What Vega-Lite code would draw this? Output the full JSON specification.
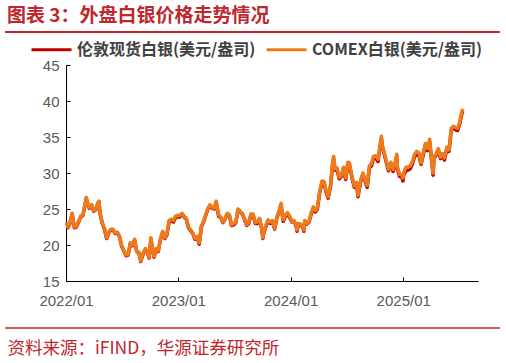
{
 "$schema": "https://vega.github.io/schema/vega-lite/v6.json",
 "width": 412,
 "height": 216,
 "autosize": {"type": "none"},
 "padding": {"left": 66, "top": 65, "right": 28, "bottom": 82},
 "background": "#ffffff",
 "title": {"text": "图表 3：外盘白银价格走势情况", "anchor": "start", "frame": "group", "font": "Noto Sans CJK SC", "fontSize": 19, "fontWeight": "bold", "color": "#C0262D", "dx": -59, "offset": 0, "dy": -2},
 "datasets": {
  "silver": [
   {"d":"2022-01-04","l":23.1,"c":23.2},{"d":"2022-01-07","l":22.4,"c":22.5},{"d":"2022-01-14","l":23.0,"c":23.1},{"d":"2022-01-21","l":24.3,"c":24.4},{"d":"2022-01-28","l":22.4,"c":22.5},
   {"d":"2022-02-04","l":22.5,"c":22.6},{"d":"2022-02-11","l":23.2,"c":23.3},{"d":"2022-02-18","l":23.9,"c":24.0},{"d":"2022-02-25","l":24.1,"c":24.2},
   {"d":"2022-03-04","l":25.6,"c":25.7},{"d":"2022-03-08","l":26.5,"c":26.6},{"d":"2022-03-11","l":25.9,"c":26.0},{"d":"2022-03-18","l":25.1,"c":25.2},{"d":"2022-03-25","l":25.5,"c":25.6},
   {"d":"2022-04-01","l":24.7,"c":24.8},{"d":"2022-04-08","l":24.9,"c":25.0},{"d":"2022-04-14","l":25.7,"c":25.8},{"d":"2022-04-18","l":26.0,"c":26.1},{"d":"2022-04-22","l":24.3,"c":24.4},{"d":"2022-04-29","l":23.0,"c":23.1},
   {"d":"2022-05-06","l":22.2,"c":22.3},{"d":"2022-05-13","l":20.9,"c":21.0},{"d":"2022-05-20","l":21.7,"c":21.8},{"d":"2022-05-27","l":22.1,"c":22.2},
   {"d":"2022-06-03","l":22.1,"c":22.2},{"d":"2022-06-10","l":21.6,"c":21.7},{"d":"2022-06-17","l":21.7,"c":21.8},{"d":"2022-06-24","l":21.1,"c":21.2},
   {"d":"2022-07-01","l":19.8,"c":19.9},{"d":"2022-07-08","l":19.2,"c":19.3},{"d":"2022-07-15","l":18.5,"c":18.6},{"d":"2022-07-22","l":18.6,"c":18.7},{"d":"2022-07-29","l":20.2,"c":20.3},
   {"d":"2022-08-05","l":19.9,"c":20.0},{"d":"2022-08-12","l":20.7,"c":20.8},{"d":"2022-08-19","l":19.1,"c":19.1},{"d":"2022-08-26","l":18.9,"c":19.0},
   {"d":"2022-09-01","l":17.7,"c":17.8},{"d":"2022-09-09","l":18.8,"c":18.9},{"d":"2022-09-16","l":19.4,"c":19.5},{"d":"2022-09-23","l":18.9,"c":19.0},{"d":"2022-09-28","l":18.2,"c":18.3},
   {"d":"2022-10-04","l":20.9,"c":21.0},{"d":"2022-10-07","l":20.0,"c":20.1},{"d":"2022-10-14","l":18.3,"c":18.4},{"d":"2022-10-21","l":19.4,"c":19.5},{"d":"2022-10-28","l":19.1,"c":19.2},
   {"d":"2022-11-04","l":20.8,"c":20.9},{"d":"2022-11-11","l":21.7,"c":21.9},{"d":"2022-11-18","l":20.9,"c":21.0},{"d":"2022-11-25","l":21.4,"c":21.6},
   {"d":"2022-12-02","l":23.2,"c":23.4},{"d":"2022-12-09","l":23.4,"c":23.6},{"d":"2022-12-16","l":23.2,"c":23.4},{"d":"2022-12-23","l":23.8,"c":24.0},{"d":"2022-12-30","l":23.9,"c":24.1},
   {"d":"2023-01-06","l":23.9,"c":24.1},{"d":"2023-01-13","l":24.3,"c":24.4},{"d":"2023-01-20","l":23.9,"c":24.0},{"d":"2023-01-27","l":23.6,"c":23.7},
   {"d":"2023-02-03","l":22.4,"c":22.5},{"d":"2023-02-10","l":22.0,"c":22.1},{"d":"2023-02-17","l":21.6,"c":21.7},{"d":"2023-02-24","l":20.8,"c":20.9},
   {"d":"2023-03-03","l":21.1,"c":21.2},{"d":"2023-03-10","l":20.1,"c":20.3},{"d":"2023-03-17","l":22.5,"c":22.6},{"d":"2023-03-24","l":23.2,"c":23.3},{"d":"2023-03-31","l":24.1,"c":24.2},
   {"d":"2023-04-07","l":25.0,"c":25.1},{"d":"2023-04-14","l":25.4,"c":25.6},{"d":"2023-04-21","l":25.1,"c":25.2},{"d":"2023-04-28","l":25.0,"c":25.1},
   {"d":"2023-05-04","l":25.9,"c":26.1},{"d":"2023-05-12","l":24.0,"c":24.2},{"d":"2023-05-19","l":23.8,"c":23.9},{"d":"2023-05-26","l":23.1,"c":23.2},
   {"d":"2023-06-02","l":23.6,"c":23.7},{"d":"2023-06-09","l":24.3,"c":24.4},{"d":"2023-06-16","l":24.1,"c":24.2},{"d":"2023-06-23","l":22.7,"c":22.8},{"d":"2023-06-30","l":22.8,"c":23.0},
   {"d":"2023-07-07","l":23.1,"c":23.2},{"d":"2023-07-14","l":24.9,"c":25.0},{"d":"2023-07-21","l":24.6,"c":24.7},{"d":"2023-07-28","l":24.3,"c":24.4},
   {"d":"2023-08-04","l":23.6,"c":23.7},{"d":"2023-08-11","l":22.7,"c":22.8},{"d":"2023-08-18","l":23.0,"c":23.2},{"d":"2023-08-25","l":24.2,"c":24.3},
   {"d":"2023-09-01","l":24.2,"c":24.3},{"d":"2023-09-08","l":23.0,"c":23.1},{"d":"2023-09-15","l":23.0,"c":23.2},{"d":"2023-09-22","l":23.6,"c":23.7},{"d":"2023-09-29","l":22.3,"c":22.4},
   {"d":"2023-10-03","l":20.9,"c":21.0},{"d":"2023-10-06","l":21.7,"c":21.8},{"d":"2023-10-13","l":22.6,"c":22.8},{"d":"2023-10-20","l":23.4,"c":23.5},{"d":"2023-10-27","l":23.0,"c":23.2},
   {"d":"2023-11-03","l":23.3,"c":23.4},{"d":"2023-11-10","l":22.2,"c":22.3},{"d":"2023-11-17","l":23.7,"c":23.8},{"d":"2023-11-24","l":24.6,"c":24.7},
   {"d":"2023-12-01","l":25.6,"c":25.8},{"d":"2023-12-06","l":23.9,"c":24.0},{"d":"2023-12-08","l":23.3,"c":23.5},{"d":"2023-12-15","l":24.0,"c":24.2},{"d":"2023-12-22","l":24.3,"c":24.5},{"d":"2023-12-29","l":23.8,"c":24.0},
   {"d":"2024-01-05","l":23.2,"c":23.3},{"d":"2024-01-12","l":23.3,"c":23.4},{"d":"2024-01-19","l":22.6,"c":22.7},{"d":"2024-01-22","l":21.9,"c":22.1},{"d":"2024-01-26","l":22.9,"c":23.0},
   {"d":"2024-02-02","l":22.8,"c":22.9},{"d":"2024-02-09","l":22.5,"c":22.6},{"d":"2024-02-13","l":21.9,"c":22.1},{"d":"2024-02-16","l":23.3,"c":23.4},{"d":"2024-02-23","l":22.9,"c":23.0},
   {"d":"2024-03-01","l":23.2,"c":23.3},{"d":"2024-03-08","l":24.3,"c":24.5},{"d":"2024-03-15","l":25.1,"c":25.3},{"d":"2024-03-22","l":24.6,"c":24.8},{"d":"2024-03-28","l":25.0,"c":25.2},
   {"d":"2024-04-05","l":27.4,"c":27.6},{"d":"2024-04-12","l":28.6,"c":28.9},{"d":"2024-04-19","l":28.6,"c":28.8},{"d":"2024-04-26","l":27.2,"c":27.4},
   {"d":"2024-05-02","l":26.5,"c":26.7},{"d":"2024-05-10","l":28.2,"c":28.4},{"d":"2024-05-17","l":31.4,"c":31.7},{"d":"2024-05-20","l":32.0,"c":32.3},{"d":"2024-05-24","l":30.4,"c":30.6},{"d":"2024-05-31","l":30.4,"c":30.7},
   {"d":"2024-06-07","l":29.2,"c":29.4},{"d":"2024-06-14","l":29.5,"c":29.7},{"d":"2024-06-21","l":30.5,"c":30.8},{"d":"2024-06-28","l":29.1,"c":29.3},
   {"d":"2024-07-05","l":31.2,"c":31.5},{"d":"2024-07-10","l":31.2,"c":31.4},{"d":"2024-07-19","l":29.2,"c":29.4},{"d":"2024-07-26","l":28.0,"c":28.2},
   {"d":"2024-08-02","l":28.5,"c":28.7},{"d":"2024-08-07","l":26.7,"c":26.9},{"d":"2024-08-16","l":28.9,"c":29.1},{"d":"2024-08-23","l":29.8,"c":30.0},{"d":"2024-08-30","l":28.9,"c":29.1},
   {"d":"2024-09-06","l":28.0,"c":28.3},{"d":"2024-09-13","l":30.7,"c":31.0},{"d":"2024-09-20","l":31.0,"c":31.3},{"d":"2024-09-26","l":32.0,"c":32.3},
   {"d":"2024-10-04","l":32.1,"c":32.4},{"d":"2024-10-11","l":31.6,"c":31.9},{"d":"2024-10-18","l":33.7,"c":34.0},{"d":"2024-10-22","l":34.8,"c":35.1},{"d":"2024-10-25","l":33.7,"c":33.9},
   {"d":"2024-11-01","l":32.5,"c":32.7},{"d":"2024-11-08","l":31.3,"c":31.5},{"d":"2024-11-14","l":30.3,"c":30.5},{"d":"2024-11-22","l":31.3,"c":31.5},{"d":"2024-11-29","l":30.2,"c":30.5},
   {"d":"2024-12-06","l":31.2,"c":31.4},{"d":"2024-12-11","l":32.3,"c":32.6},{"d":"2024-12-13","l":30.6,"c":30.9},{"d":"2024-12-20","l":29.5,"c":29.8},{"d":"2024-12-27","l":29.5,"c":29.8},{"d":"2024-12-31","l":28.9,"c":29.3},
   {"d":"2025-01-03","l":29.8,"c":30.1},{"d":"2025-01-10","l":30.3,"c":30.8},{"d":"2025-01-17","l":30.4,"c":30.8},{"d":"2025-01-24","l":30.6,"c":31.0},{"d":"2025-01-31","l":31.3,"c":31.6},
   {"d":"2025-02-07","l":32.3,"c":32.6},{"d":"2025-02-14","l":32.6,"c":33.0},{"d":"2025-02-21","l":32.4,"c":32.8},{"d":"2025-02-28","l":31.2,"c":31.4},
   {"d":"2025-03-07","l":32.5,"c":32.8},{"d":"2025-03-14","l":33.8,"c":34.1},{"d":"2025-03-21","l":33.1,"c":33.4},{"d":"2025-03-28","l":34.3,"c":34.7},
   {"d":"2025-04-03","l":31.8,"c":32.0},{"d":"2025-04-08","l":29.7,"c":30.0},{"d":"2025-04-11","l":32.1,"c":32.3},{"d":"2025-04-17","l":32.4,"c":32.6},{"d":"2025-04-25","l":33.2,"c":33.4},
   {"d":"2025-05-02","l":32.0,"c":32.2},{"d":"2025-05-09","l":32.5,"c":32.7},{"d":"2025-05-15","l":31.8,"c":32.1},{"d":"2025-05-23","l":33.4,"c":33.6},{"d":"2025-05-30","l":33.0,"c":33.2},
   {"d":"2025-06-06","l":35.9,"c":36.2},{"d":"2025-06-13","l":36.3,"c":36.5},{"d":"2025-06-20","l":36.0,"c":36.3},{"d":"2025-06-27","l":35.9,"c":36.2},
   {"d":"2025-07-04","l":36.9,"c":37.2},{"d":"2025-07-11","l":38.3,"c":38.6},{"d":"2025-07-14","l":38.6,"c":38.9}
  ]
 },
 "layer": [
  {
   "data": {"values": [{"line": "header"}]},
   "mark": {"type": "rule", "color": "#C0262D", "strokeWidth": 2},
   "encoding": {
    "x": {"datum": {"year": 2021, "month": 6, "date": 17}, "type": "temporal"},
    "x2": {"datum": {"year": 2025, "month": 11, "date": 11}},
    "y": {"datum": 49.58, "type": "quantitative"}
   }
  },
  {
   "data": {"values": [{"line": "footer"}]},
   "mark": {"type": "rule", "color": "#C0262D", "strokeWidth": 1.5},
   "encoding": {
    "x": {"datum": {"year": 2021, "month": 6, "date": 17}, "type": "temporal"},
    "x2": {"datum": {"year": 2025, "month": 11, "date": 11}},
    "y": {"datum": 8.47, "type": "quantitative"}
   }
  },
  {
   "data": {"name": "silver"},
   "mark": {"type": "line", "strokeWidth": 3.5, "strokeJoin": "round"},
   "encoding": {
    "x": {"field": "d", "type": "temporal"},
    "y": {"field": "l", "type": "quantitative"},
    "color": {"datum": "伦敦现货白银(美元/盎司)", "type": "nominal"}
   }
  },
  {
   "data": {"name": "silver"},
   "mark": {"type": "line", "strokeWidth": 3.5, "strokeJoin": "round"},
   "encoding": {
    "x": {"field": "d", "type": "temporal"},
    "y": {"field": "c", "type": "quantitative"},
    "color": {"datum": "COMEX白银(美元/盎司)", "type": "nominal"}
   }
  }
 ],
 "encoding": {
  "x": {
   "type": "temporal",
   "scale": {"domain": [{"year": 2022, "month": 1, "date": 1}, {"year": 2025, "month": 9, "date": 1}]},
   "axis": {"format": "%Y/%m", "tickCount": {"interval": "year", "step": 1}, "labelFlush": false, "labelOverlap": false, "labelFont": "Liberation Sans", "labelFontSize": 15, "labelColor": "#595959", "tickSize": -4, "tickColor": "#000000", "domainColor": "#000000", "grid": false, "labelPadding": 16, "title": "资料来源：iFIND，华源证券研究所", "titleFont": "Noto Sans CJK SC", "titleFontSize": 17.5, "titleFontWeight": "normal", "titleColor": "#C0262D", "titleAnchor": "start", "titleAlign": "left", "titleBaseline": "middle", "titleX": -59, "titleY": 67}
  },
  "y": {
   "type": "quantitative",
   "scale": {"domain": [15, 45], "nice": false, "zero": false},
   "axis": {"values": [15, 20, 25, 30, 35, 40, 45], "labelOverlap": false, "labelFont": "Liberation Sans", "labelFontSize": 15, "labelColor": "#595959", "tickSize": -4, "tickColor": "#000000", "domainColor": "#000000", "grid": false, "labelPadding": 11, "title": null}
  },
  "color": {
   "type": "nominal",
   "scale": {"domain": ["伦敦现货白银(美元/盎司)", "COMEX白银(美元/盎司)"], "range": ["#C00000", "#EE7B1B"]},
   "legend": {"orient": "none", "legendX": -36, "legendY": -37, "direction": "horizontal", "title": null, "symbolType": "stroke", "symbolSize": 1600, "symbolStrokeWidth": 3, "labelFont": "Noto Sans CJK SC", "labelFontSize": 16, "labelFontWeight": "bold", "labelColor": "#404040", "labelOffset": 4, "labelLimit": 0, "columnPadding": 4}
  }
 },
 "config": {"view": {"stroke": null}}
}
